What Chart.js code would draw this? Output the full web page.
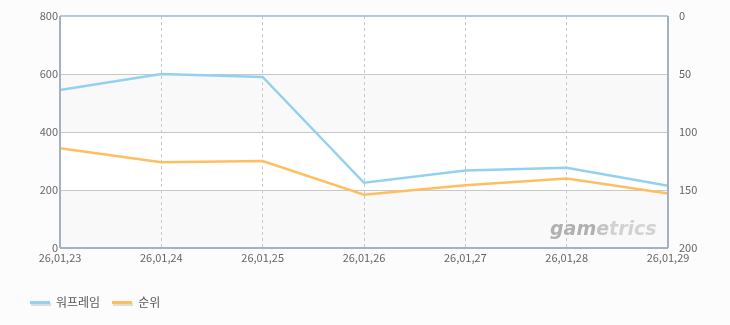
<!DOCTYPE html>
<html>
<head>
<meta charset="utf-8">
<script src="https://cdn.jsdelivr.net/npm/chart.js@4.4.1/dist/chart.umd.min.js"></script>
<style>
  html, body { margin: 0; padding: 0; background: #fcfcfc; }
  #wrap { position: relative; width: 730px; height: 325px; }
  #legend { position: absolute; left: 30px; top: 293px; font: 12px "Noto Sans CJK KR", sans-serif; color: #555; }
  .item { display: inline-block; margin-right: 12px; }
  .sw { display: inline-block; width: 20px; height: 3px; vertical-align: middle; margin-right: 6px; box-shadow: 1px 2px 0 #ddd; position: relative; top: -1px; }
</style>
</head>
<body>
<div id="wrap">
  <canvas id="chartArea" width="730" height="325"></canvas>
  <div id="legend"></div>
</div>
<script>
const dates = ["26,01,23", "26,01,24", "26,01,25", "26,01,26", "26,01,27", "26,01,28", "26,01,29"];
const warframeValues = [545, 600, 590, 225, 267, 277, 215];
const rankValues = [114, 126, 125, 154, 146, 140, 153];
const seriesNames = ["워프레임", "순위"];
const seriesColors = ["#92d2f0", "#ffbf60"];

// 배경 줄무늬 + 테두리 + 워터마크
const framePlugin = {
  id: "frame",
  beforeDraw(chart) {
    const { ctx, chartArea: a, scales } = chart;
    const y = scales.y;
    ctx.save();
    for (let v = 800; v > 0; v -= 200) {
      const top = y.getPixelForValue(v);
      const bot = y.getPixelForValue(v - 200);
      ctx.fillStyle = ((800 - v) / 200) % 2 === 0 ? "#ffffff" : "#f9f9f9";
      ctx.fillRect(a.left, top, a.right - a.left, bot - top);
    }
    ctx.restore();
  },
  afterDatasetsDraw(chart) {
    const { ctx } = chart;
    ctx.save();
    ctx.font = "italic bold 19px 'DejaVu Sans', sans-serif";
    ctx.textBaseline = "alphabetic";
    let x = 550;
    const parts = [["gam", "#b0b0b0"], ["e", "#c4c4c4"], ["trics", "#d2d2d2"]];
    parts.forEach(([t, c]) => {
      ctx.fillStyle = c;
      ctx.fillText(t, x, 235);
      x += ctx.measureText(t).width;
    });
    ctx.restore();
  },
  afterDraw(chart) {
    const { ctx, chartArea: a } = chart;
    ctx.save();
    ctx.lineWidth = 2;
    ctx.strokeStyle = "#b9c8d8";
    ctx.beginPath();
    ctx.moveTo(a.left, a.top); ctx.lineTo(a.right, a.top);
    ctx.stroke();
    ctx.strokeStyle = "#a2b1c4";
    ctx.beginPath();
    ctx.moveTo(a.left, a.top); ctx.lineTo(a.left, a.bottom);
    ctx.moveTo(a.right, a.top); ctx.lineTo(a.right, a.bottom);
    ctx.moveTo(a.left, a.bottom); ctx.lineTo(a.right, a.bottom);
    ctx.stroke();
    ctx.restore();
  }
};

const tickFont = { family: "'Noto Sans CJK KR', sans-serif", size: 11 };

new Chart(document.getElementById("chartArea"), {
  type: "line",
  data: {
    labels: dates,
    datasets: [
      { label: seriesNames[0], data: warframeValues, yAxisID: "y", borderColor: seriesColors[0], borderWidth: 2.5, pointRadius: 0, tension: 0 },
      { label: seriesNames[1], data: rankValues, yAxisID: "y2", borderColor: seriesColors[1], borderWidth: 2.5, pointRadius: 0, tension: 0 }
    ]
  },
  options: {
    responsive: false,
    animation: false,
    layout: { padding: { left: 0, right: 0, top: 16, bottom: 57 } },
    plugins: { legend: { display: false }, tooltip: { enabled: false } },
    scales: {
      x: {
        offset: false,
        grid: { color: "#c8c8c8", drawTicks: false },
        border: { display: false, dash: [3, 3] },
        ticks: { color: "#666", font: tickFont, padding: 3, maxRotation: 0, autoSkip: false },
        afterFit(s) { s.height = 20; }
      },
      y: {
        position: "left",
        min: 0, max: 800,
        grid: { color: "#c8c8c8", drawTicks: false },
        border: { display: false },
        ticks: { stepSize: 200, color: "#666", font: tickFont, padding: 2 },
        afterFit(s) { s.width = 60; }
      },
      y2: {
        position: "right",
        reverse: true,
        min: 0, max: 200,
        grid: { display: false },
        border: { display: false },
        ticks: { stepSize: 50, color: "#666", font: tickFont, padding: 3 },
        afterFit(s) { s.width = 62; }
      }
    }
  },
  plugins: [framePlugin]
});

document.getElementById("legend").innerHTML = seriesNames.map((n, i) =>
  `<span class="item"><span class="sw" style="background:${seriesColors[i]}"></span>${n}</span>`).join("");
</script>
</body>
</html>
